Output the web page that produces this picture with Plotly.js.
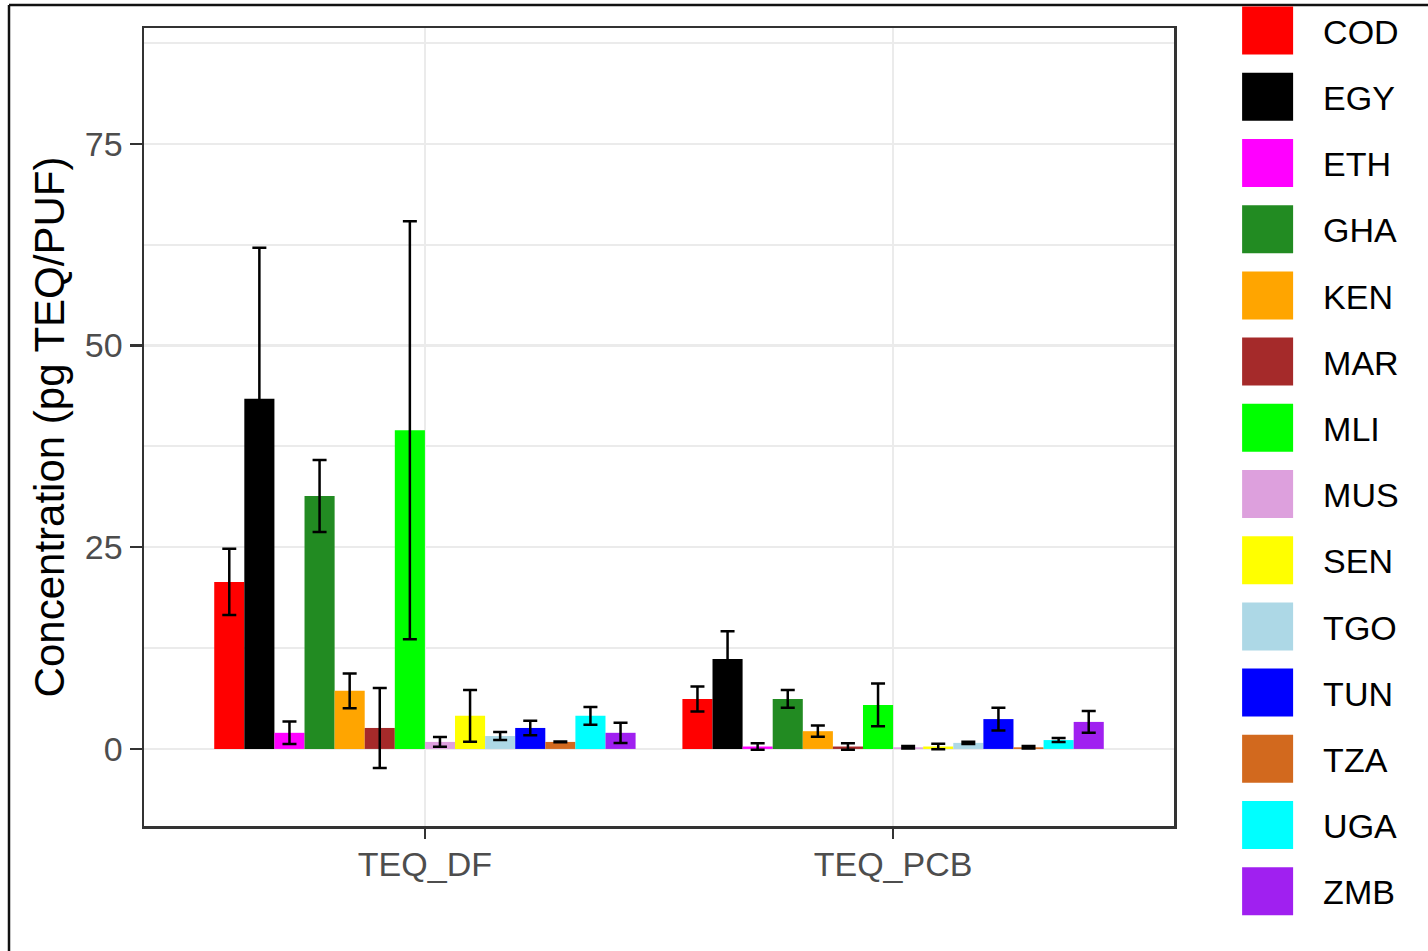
<!DOCTYPE html>
<html>
<head>
<meta charset="utf-8">
<script src="https://cdn.plot.ly/plotly-3.0.1.min.js"></script>
<style>
  html, body { margin: 0; padding: 0; background: #ffffff; }
  #chart { width: 1428px; height: 951px; }
</style>
</head>
<body>
<div id="chart"></div>
<script>
// ---- data ----
const categories = ['TEQ_DF', 'TEQ_PCB'];
const countries = ['COD','EGY','ETH','GHA','KEN','MAR','MLI','MUS','SEN','TGO','TUN','TZA','UGA','ZMB'];
const colors = ['#FF0000','#000000','#FF00FF','#228B22','#FFA500','#A52A2A','#00FF00',
                '#DDA0DD','#FFFF00','#ADD8E6','#0000FF','#D2691E','#00FFFF','#A020F0'];
const teqDF     = [20.7, 43.4, 2.0, 31.35, 7.2, 2.6, 39.5, 0.87, 4.1, 1.6, 2.6, 0.87, 4.1, 2.0];
const teqDFerr  = [4.1, 18.7, 1.4, 4.45, 2.15, 4.95, 25.9, 0.6, 3.2, 0.5, 0.9, 0.05, 1.1, 1.25];
const teqPCB    = [6.2, 11.15, 0.3, 6.2, 2.2, 0.3, 5.45, 0.2, 0.3, 0.75, 3.7, 0.2, 1.1, 3.35];
const teqPCBerr = [1.55, 3.45, 0.4, 1.1, 0.7, 0.4, 2.65, 0.15, 0.35, 0.15, 1.4, 0.15, 0.25, 1.35];
const yTicks = [0, 25, 50, 75];

const traces = countries.map((c, i) => ({
  type: 'bar',
  name: c,
  legendgroup: c,
  x: categories,
  y: [teqDF[i], teqPCB[i]],
  marker: { color: colors[i], line: { width: 0 } },
  error_y: {
    type: 'data',
    array: [teqDFerr[i], teqPCBerr[i]],
    visible: true,
    color: '#000000',
    thickness: 2.5,
    width: 7
  },
  hoverinfo: 'x+y+name'
}));

const gridCol = '#EBEBEB';
const layout = {
  width: 1428,
  height: 951,
  margin: { l: 144, r: 254, t: 28, b: 125, autoexpand: false },
  paper_bgcolor: '#FFFFFF',
  plot_bgcolor: '#FFFFFF',
  font: { family: 'Liberation Sans, Arial, sans-serif', size: 34, color: '#4D4D4D' },
  barmode: 'group',
  bargap: 0.1,
  bargroupgap: 0,
  xaxis: {
    type: 'category',
    range: [-0.6, 1.6],
    showgrid: true,
    gridcolor: gridCol,
    gridwidth: 2.5,
    ticks: 'outside',
    ticklen: 10,
    tickwidth: 2.5,
    tickcolor: '#333333',
    tickfont: { size: 34, color: '#4D4D4D' },
    ticklabelstandoff: -3,
    showline: true,
    linecolor: '#333333',
    linewidth: 2.5,
    mirror: true,
    zeroline: false
  },
  yaxis: {
    range: [-9.55, 89.35],
    tickvals: yTicks,
    ticktext: yTicks.map(String),
    showgrid: true,
    gridcolor: gridCol,
    gridwidth: 2.5,
    minor: { dtick: 12.5, tick0: 0, showgrid: true, gridcolor: gridCol, gridwidth: 2, ticks: '' },
    ticks: 'outside',
    ticklen: 12,
    tickwidth: 2.5,
    tickcolor: '#333333',
    tickfont: { size: 34, color: '#4D4D4D' },
    showline: true,
    linecolor: '#333333',
    linewidth: 2.5,
    mirror: true,
    zeroline: false,
    title: {
      text: 'Concentration (pg TEQ/PUF)',
      font: { size: 42, color: '#000000' },
      standoff: 7
    }
  },
  legend: {
    x: 1.037,
    xanchor: 'left',
    y: 1 - 2 / 951,
    yref: 'container',
    yanchor: 'top',
    maxheight: 951,
    traceorder: 'grouped',
    tracegroupgap: 19,
    itemwidth: 101,
    font: { size: 34, color: '#000000' },
    bgcolor: 'rgba(0,0,0,0)',
    borderwidth: 0
  },
  shapes: [
    { type: 'line', xref: 'paper', yref: 'paper',
      x0: -135 / 1030, x1: 1300 / 1030, y0: 821 / 798, y1: 821 / 798,
      line: { color: '#111111', width: 2.5 } },
    { type: 'line', xref: 'paper', yref: 'paper',
      x0: -135 / 1030, x1: -135 / 1030, y0: 821 / 798, y1: -130 / 798,
      line: { color: '#111111', width: 2.5 } }
  ],
  showlegend: true
};

Plotly.newPlot('chart', traces, layout, { displayModeBar: false, staticPlot: true }).then(() => {
  document.querySelectorAll('.legend .legendpoints path').forEach(p => {
    p.setAttribute('d', 'M25.5,24H-25.5V-24H25.5Z');
  });
});
</script>
</body>
</html>
